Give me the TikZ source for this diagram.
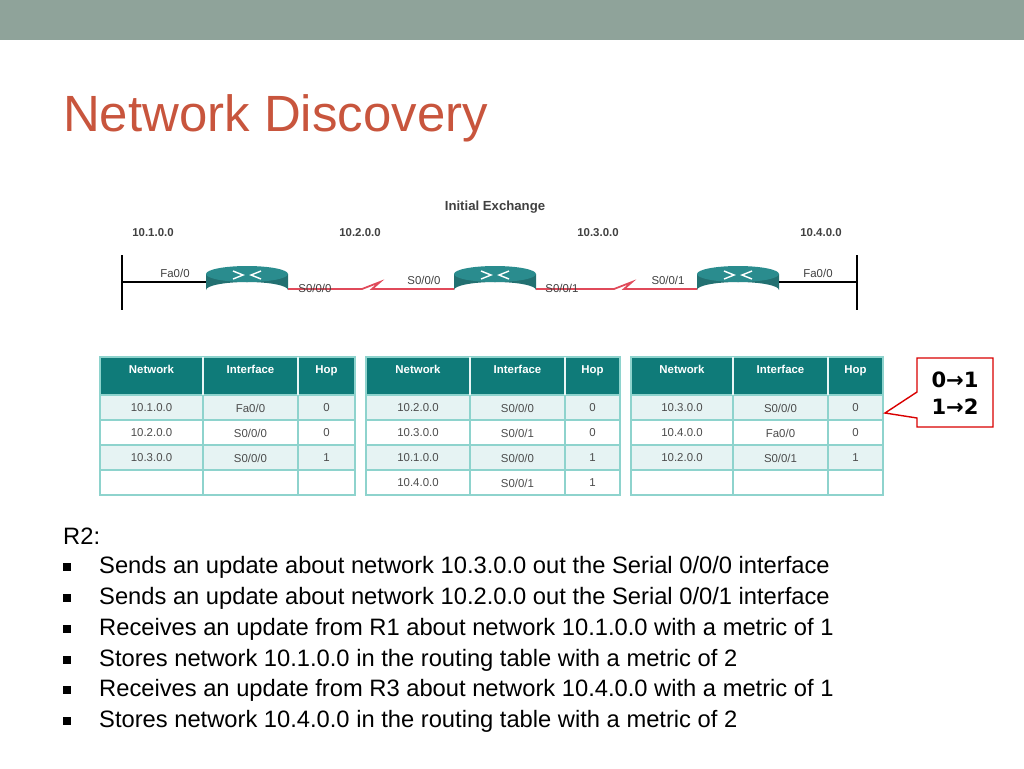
\documentclass[tikz,border=0pt]{standalone}
\usepackage{fontspec}
\setmainfont{Liberation Sans}
\newfontfamily\symfont{DejaVu Sans}
\usetikzlibrary{positioning}
\definecolor{band}{HTML}{8FA39A}
\definecolor{titlered}{HTML}{C8553D}
\definecolor{headteal}{HTML}{0F7B79}
\definecolor{gridteal}{HTML}{8ED3CD}
\definecolor{rowlight}{HTML}{E6F3F3}
\definecolor{routerteal}{HTML}{2A8C8E}
\definecolor{linkred}{HTML}{E04A5A}
\begin{document}
\begin{tikzpicture}[x=0.02cm,y=-0.02cm,
        lbl/.style={font=\fontsize{6.5}{7}\selectfont\bfseries, text=black!75},
        ifc/.style={font=\fontsize{6.5}{7}\selectfont, text=black!75},
        cell/.style={font=\fontsize{6.5}{7}\selectfont, text=black!70},
        head/.style={font=\fontsize{6.5}{7}\selectfont\bfseries, text=white, anchor=north},
        bullet/.style={font=\fontsize{13.5}{15}\selectfont, anchor=west},
        link/.style={linkred, line width=1pt}
    ]
    \useasboundingbox (0,0) rectangle (1024,768);
    \fill[band] (0,0) rectangle (1024,40);
    \node[anchor=west, text=titlered, font=\fontsize{29}{32}\selectfont] (title) at (57,118) {Network Discovery};

    % topology
    \node[lbl, font=\fontsize{7.5}{8}\selectfont\bfseries] (exch) at (495,207) {Initial Exchange};
    \node[lbl] (n1) at (153,233) {10.1.0.0};
    \node[lbl] (n2) at (360,233) {10.2.0.0};
    \node[lbl] (n3) at (598,233) {10.3.0.0};
    \node[lbl] (n4) at (821,233) {10.4.0.0};
    \coordinate (lan1) at (122,282);
    \coordinate (lan4) at (857,282);
    \draw[line width=1.5pt] (122,255) -- (122,310);
    \draw[line width=1.5pt] (857,255) -- (857,310);
    \foreach \name/\x in {R1/247,R2/495,R3/738} {
        \fill[routerteal!80!black] (\x-41,274) -- (\x-41,290) arc[start angle=180,end angle=360,x radius=41,y radius=8] -- (\x+41,274) -- cycle;
        \fill[routerteal] (\x,274) ellipse[x radius=41,y radius=8];
        \draw[white, line width=0.8pt] (\x-14,271) -- (\x-4,275) -- (\x-14,279) (\x+14,271) -- (\x+4,275) -- (\x+14,279);
        \node[text=white, font=\fontsize{7}{8}\selectfont\bfseries] (\name) at (\x,291) {\name};
    }
    \draw[line width=1pt] (lan1) -- (206,282);
    \draw[line width=1pt] (779,282) -- (lan4);
    \draw[link] (288,289) -- (362,289) -- (380,282) -- (372,289) -- (454,289);
    \draw[link] (536,289) -- (614,289) -- (632,282) -- (624,289) -- (697,289);
    \node[ifc] (f1) at (175,273) {Fa0/0};
    \node[ifc] (s1) at (315,288) {S0/0/0};
    \node[ifc] (s2a) at (424,280) {S0/0/0};
    \node[ifc] (s2b) at (562,288) {S0/0/1};
    \node[ifc] (s3) at (668,280) {S0/0/1};
    \node[ifc] (f3) at (818,273) {Fa0/0};

    % routing tables
    \foreach \xa/\xb/\xc/\xd/\tab in {100/203/298/355/1,366/470/565/620/2,631/733/828/883/3} {
        \fill[headteal] (\xa,357) rectangle (\xd,395);
        \foreach \ya/\yb/\c in {395/420/rowlight,420/445/white,445/470/rowlight,470/495/white}
            \fill[\c] (\xa,\ya) rectangle (\xd,\yb);
        \draw[gridteal, line width=1pt] (\xa,357) rectangle (\xd,495);
        \foreach \y in {395,420,445,470} \draw[gridteal, line width=1pt] (\xa,\y) -- (\xd,\y);
        \draw[gridteal, line width=1pt] (\xb,395) -- (\xb,495) (\xc,395) -- (\xc,495);
        \draw[white!80!gridteal, line width=1.2pt] (\xb,357) -- (\xb,395) (\xc,357) -- (\xc,395);
        \node[head] (net\tab) at ({(\xa+\xb)/2},359) {Network};
        \node[head] (int\tab) at ({(\xb+\xc)/2},359) {Interface};
        \node[head] (hop\tab) at ({(\xc+\xd)/2},359) {Hop};
    }
    \foreach \r/\y/\a/\b/\c in {1/408/10.1.0.0/Fa0\slash 0/0, 1/433/10.2.0.0/S0\slash 0\slash 0/0, 1/458/10.3.0.0/S0\slash 0\slash 0/1,
                                2/408/10.2.0.0/S0\slash 0\slash 0/0, 2/433/10.3.0.0/S0\slash 0\slash 1/0, 2/458/10.1.0.0/S0\slash 0\slash 0/1, 2/483/10.4.0.0/S0\slash 0\slash 1/1,
                                3/408/10.3.0.0/S0\slash 0\slash 0/0, 3/433/10.4.0.0/Fa0\slash 0/0, 3/458/10.2.0.0/S0\slash 0\slash 1/1} {
        \node[cell] at (net\r |- 0,\y) {\a};
        \node[cell] at (int\r |- 0,\y) {\b};
        \node[cell] at (hop\r |- 0,\y) {\c};
    }

    % hop count callout
    \coordinate (tip) at (885,413);
    \draw[red!85!black, fill=white, line width=0.8pt] (917,358) -- (993,358) -- (993,427) -- (917,427) -- (917,418) -- (tip) -- (917,392) -- cycle;
    \node[font=\symfont\bfseries\fontsize{12}{15}\selectfont, align=center] (hops) at (955,393) {0→1\\1→2};

    % text
    \node[bullet] (r2) at (57,536) {R2:};
    \foreach \y/\t in {567/{Sends an update about network 10.3.0.0 out the Serial 0/0/0 interface},
                       598/{Sends an update about network 10.2.0.0 out the Serial 0/0/1 interface},
                       629/{Receives an update from R1 about network 10.1.0.0 with a metric of 1},
                       660/{Stores network 10.1.0.0 in the routing table with a metric of 2},
                       690/{Receives an update from R3 about network 10.4.0.0 with a metric of 1},
                       721/{Stores network 10.4.0.0 in the routing table with a metric of 2}} {
        \fill (63,\y-4) rectangle (71,\y+4);
        \node[bullet] at (93,\y) {\t};
    }
\end{tikzpicture}
\end{document}
